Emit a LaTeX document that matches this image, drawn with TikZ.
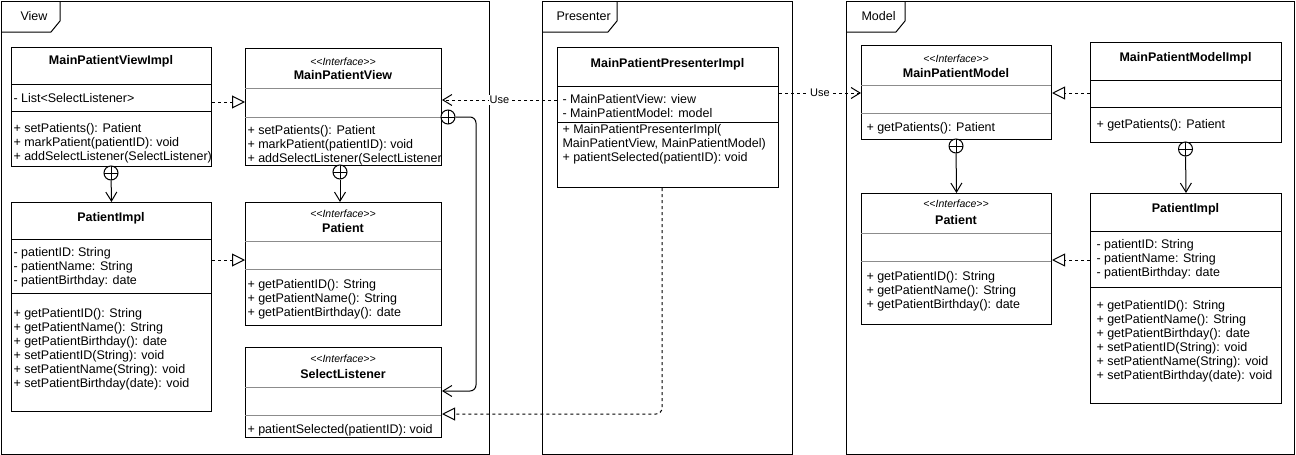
\documentclass[tikz,border=0pt]{standalone}
\usepackage{fontspec}
\setmainfont{Liberation Sans}
\usetikzlibrary{arrows.meta}

% rows of a class compartment: name prefix, x, first baseline, list of texts
\newcommand\classrows[4]{%
  \foreach \rowtext [count=\k] in {#4}{%
    \node[row] (#1-\k) at (#2,{#3+14*(\k-1)}) {\rowtext};}}

\begin{document}
\begin{tikzpicture}[x=1pt,y=-1pt,line width=1pt,
  frlabel/.style={anchor=base west,inner sep=0,font=\fontsize{12.5}{14}\selectfont},
  cls/.style={draw,anchor=north west,inner sep=0,fill=white},
  sepb/.style={draw=black},
  sepg/.style={draw=black!45},
  row/.style={anchor=base west,inner sep=0,font=\fontsize{12.5}{14}\selectfont},
  cname/.style={anchor=base,inner sep=0,font=\bfseries\fontsize{12.5}{14}\selectfont},
  stereo/.style={anchor=base,inner sep=0,font=\itshape\fontsize{10.5}{12}\selectfont},
  dashedline/.style={dash pattern=on 3pt off 3pt},
  realize/.style={dashedline,-{Triangle[open,length=13pt,width=13pt]}},
  depend/.style={dashedline,-{Straight Barb[length=9pt,width=11pt]}},
  nest/.style={-{Straight Barb[length=9pt,width=11pt]}},
  nestc/.style={circle,draw,fill=white,minimum size=14pt,inner sep=0,
    path picture={\draw (path picture bounding box.north) -- (path picture bounding box.south)
      (path picture bounding box.west) -- (path picture bounding box.east);}},
  uselbl/.style={fill=white,inner sep=1pt,font=\fontsize{11}{13}\selectfont}
]
\useasboundingbox (0,0) rectangle (1296,455);

% ---------- packages ----------
\draw (1,454) -- (1,1) -- (489.5,1) -- (489.5,454) -- cycle;
\draw (1,32) -- (51,32) -- (60,21) -- (60,1);
\node[frlabel] (lblview) at (20,20) {View};

\draw (542,454) -- (542,1) -- (792,1) -- (792,454) -- cycle;
\draw (542,32) -- (608,32) -- (617,21) -- (617,1);
\node[frlabel] (lblpres) at (556,20) {Presenter};

\draw (846,454) -- (846,1) -- (1294.5,1) -- (1294.5,454) -- cycle;
\draw (846,32) -- (896,32) -- (905,21) -- (905,1);
\node[frlabel] (lblmodel) at (861,20) {Model};

% ---------- View ----------
\node[cls,minimum width=200pt,minimum height=119pt] (vimpl) at (11,47) {};
\draw[sepb] (11,84) -- (211,84) (11,111) -- (211,111);
\node[cname] (vimpl-n) at (111,64) {MainPatientViewImpl};
\classrows{vimpla}{13}{102}{- List<SelectListener>}
\classrows{vimplm}{13}{132}{+ setPatients(): Patient,+ markPatient(patientID): void}
\begin{scope}
  \clip (11,47) rectangle (210.5,166);
  \node[row] (vimplm-3) at (13,160) {+ addSelectListener(SelectListener)};
\end{scope}

\node[cls,minimum width=196pt,minimum height=117pt] (vview) at (245,48) {};
\draw[sepg] (245,88) -- (441,88) (245,117) -- (441,117);
\node[stereo] (vview-s) at (343,65) {<{}<Interface>{}>};
\node[cname] (vview-n) at (343,79.5) {MainPatientView};
\classrows{vviewm}{247}{134}{+ setPatients(): Patient,+ markPatient(patientID): void}
\begin{scope}
  \clip (245,48) rectangle (440.5,165);
  \node[row] (vviewm-3) at (247,162) {+ addSelectListener(SelectListener)};
\end{scope}

\node[cls,minimum width=200pt,minimum height=209pt] (vpimpl) at (11,202) {};
\draw[sepb] (11,239) -- (211,239) (11,293) -- (211,293);
\node[cname] (vpimpl-n) at (111,221) {PatientImpl};
\classrows{vpimpla}{13}{256}{- patientID: String,- patientName: String,- patientBirthday: date}
\classrows{vpimplm}{13}{317}{+ getPatientID(): String,+ getPatientName(): String,+ getPatientBirthday(): date,+ setPatientID(String): void,+ setPatientName(String): void,+ setPatientBirthday(date): void}

\node[cls,minimum width=196pt,minimum height=123pt] (vpat) at (245,202) {};
\draw[sepg] (245,241) -- (441,241) (245,269) -- (441,269);
\node[stereo] (vpat-s) at (343,217) {<{}<Interface>{}>};
\node[cname] (vpat-n) at (343,232) {Patient};
\classrows{vpatm}{247}{288}{+ getPatientID(): String,+ getPatientName(): String,+ getPatientBirthday(): date}

\node[cls,minimum width=196pt,minimum height=90pt] (vsel) at (245,347) {};
\draw[sepg] (245,387) -- (441,387) (245,415) -- (441,415);
\node[stereo] (vsel-s) at (343,362) {<{}<Interface>{}>};
\node[cname] (vsel-n) at (343,378) {SelectListener};
\classrows{vselm}{247}{433}{+ patientSelected(patientID): void}

% ---------- Presenter ----------
\node[cls,minimum width=221pt,minimum height=140pt] (pres) at (557,47) {};
\draw[sepb] (557,86) -- (778,86) (557,122) -- (778,122);
\node[cname] (pres-n) at (667.5,67) {MainPatientPresenterImpl};
\classrows{presa}{562}{103}{- MainPatientView: view,- MainPatientModel: model}
\classrows{presm}{562}{133}{+ MainPatientPresenterImpl(,{MainPatientView, MainPatientModel)},+ patientSelected(patientID): void}

% ---------- Model ----------
\node[cls,minimum width=190pt,minimum height=94pt] (mmodel) at (861,45) {};
\draw[sepg] (861,85) -- (1051,85) (861,113) -- (1051,113);
\node[stereo] (mmodel-s) at (956,62) {<{}<Interface>{}>};
\node[cname] (mmodel-n) at (956,77) {MainPatientModel};
\classrows{mmodelm}{866}{131}{+ getPatients(): Patient}

\node[cls,minimum width=191pt,minimum height=100pt] (mmimpl) at (1090,42) {};
\draw[sepb] (1090,80) -- (1281,80) (1090,107) -- (1281,107);
\node[cname] (mmimpl-n) at (1185.5,61) {MainPatientModelImpl};
\classrows{mmimplm}{1096}{128}{+ getPatients(): Patient}

\node[cls,minimum width=190pt,minimum height=131pt] (mpat) at (861,193) {};
\draw[sepg] (861,233) -- (1051,233) (861,261) -- (1051,261);
\node[stereo] (mpat-s) at (956,207) {<{}<Interface>{}>};
\node[cname] (mpat-n) at (956,224) {Patient};
\classrows{mpatm}{866}{280}{+ getPatientID(): String,+ getPatientName(): String,+ getPatientBirthday(): date}

\node[cls,minimum width=191pt,minimum height=210pt] (mpimpl) at (1090,193) {};
\draw[sepb] (1090,231) -- (1281,231) (1090,287) -- (1281,287);
\node[cname] (mpimpl-n) at (1185.5,212) {PatientImpl};
\classrows{mpimpla}{1096}{248}{- patientID: String,- patientName: String,- patientBirthday: date}
\classrows{mpimplm}{1096}{309}{+ getPatientID(): String,+ getPatientName(): String,+ getPatientBirthday(): date,+ setPatientID(String): void,+ setPatientName(String): void,+ setPatientBirthday(date): void}

% ---------- realizations ----------
\draw[realize] (vimpl.east |- 0,102) -- (vview.west |- 0,102);
\draw[realize] (vpimpl.east |- 0,260) -- (vpat.west |- 0,260);
\draw[realize,rounded corners=6pt] (pres.south -| 662,0) |- (vsel.east |- 0,414);
\draw[realize] (mmimpl.west |- 0,93) -- (mmodel.east |- 0,93);
\draw[realize] (mpimpl.west |- 0,260) -- (mpat.east |- 0,260);

% ---------- dependencies ----------
\draw[depend] (pres.west |- 0,100) -- node[uselbl] (use1) {Use} (vview.east |- 0,100);
\draw[depend] (pres.east |- 0,93) -- node[uselbl] (use2) {Use} (mmodel.west |- 0,93);

% ---------- nesting ----------
\node[nestc] (nc1) at (111,173) {};
\draw[nest] (nc1) -- (vpimpl.north);
\node[nestc] (nc2) at (340,172) {};
\draw[nest] (nc2) -- (vpat.north -| nc2);
\node[nestc] (nc3) at (448,117) {};
\draw[nest,rounded corners=6pt] (nc3.east) -| (476,391) -- (vsel.east |- 0,391);
\node[nestc] (nc4) at (956,146) {};
\draw[nest] (nc4) -- (mpat.north);
\node[nestc] (nc5) at (1185.5,149) {};
\draw[nest] (nc5) -- (mpimpl.north);
\end{tikzpicture}
\end{document}
